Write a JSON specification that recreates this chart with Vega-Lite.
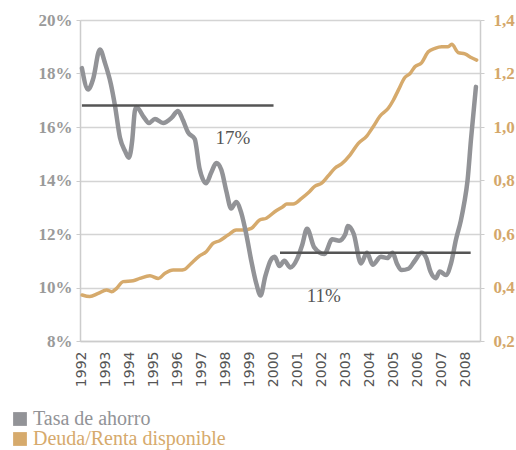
{
  "$schema": "https://vega.github.io/schema/vega-lite/v6.json",
  "width": 400,
  "height": 321,
  "autosize": "none",
  "padding": {"left": 80, "top": 20, "right": 36, "bottom": 109},
  "background": "white",
  "config": {"view": {"stroke": null}, "axisX": {"labelOverlap": false}},
  "datasets": {
    "ahorro": [
      {"anio": 1992.0, "v": 18.2}, {"anio": 1992.26, "v": 17.4}, {"anio": 1992.47, "v": 17.8},
      {"anio": 1992.75, "v": 18.9}, {"anio": 1992.96, "v": 18.4}, {"anio": 1993.21, "v": 17.6},
      {"anio": 1993.38, "v": 16.8}, {"anio": 1993.59, "v": 15.6}, {"anio": 1993.8, "v": 15.1},
      {"anio": 1993.96, "v": 14.85}, {"anio": 1994.1, "v": 15.5}, {"anio": 1994.21, "v": 16.6},
      {"anio": 1994.28, "v": 16.75}, {"anio": 1994.56, "v": 16.4}, {"anio": 1994.8, "v": 16.15},
      {"anio": 1995.05, "v": 16.3}, {"anio": 1995.39, "v": 16.15}, {"anio": 1995.75, "v": 16.35},
      {"anio": 1996.01, "v": 16.6}, {"anio": 1996.22, "v": 16.25}, {"anio": 1996.43, "v": 15.8},
      {"anio": 1996.71, "v": 15.55}, {"anio": 1996.91, "v": 14.45}, {"anio": 1997.19, "v": 13.9},
      {"anio": 1997.4, "v": 14.3}, {"anio": 1997.61, "v": 14.65}, {"anio": 1997.82, "v": 14.4},
      {"anio": 1998.03, "v": 13.6}, {"anio": 1998.23, "v": 12.95}, {"anio": 1998.44, "v": 13.2},
      {"anio": 1998.65, "v": 12.8}, {"anio": 1998.86, "v": 12.0}, {"anio": 1999.07, "v": 11.0},
      {"anio": 1999.28, "v": 10.15}, {"anio": 1999.46, "v": 9.7}, {"anio": 1999.65, "v": 10.4},
      {"anio": 1999.9, "v": 11.05}, {"anio": 2000.05, "v": 11.15}, {"anio": 2000.25, "v": 10.8},
      {"anio": 2000.45, "v": 11.0}, {"anio": 2000.7, "v": 10.75}, {"anio": 2001.0, "v": 11.1},
      {"anio": 2001.2, "v": 11.6}, {"anio": 2001.4, "v": 12.2}, {"anio": 2001.7, "v": 11.5},
      {"anio": 2002.12, "v": 11.25}, {"anio": 2002.45, "v": 11.8}, {"anio": 2002.74, "v": 11.75},
      {"anio": 2003.0, "v": 12.0}, {"anio": 2003.1, "v": 12.3}, {"anio": 2003.35, "v": 12.0},
      {"anio": 2003.65, "v": 10.9}, {"anio": 2003.9, "v": 11.3}, {"anio": 2004.14, "v": 10.85},
      {"anio": 2004.48, "v": 11.15}, {"anio": 2004.75, "v": 11.1}, {"anio": 2004.97, "v": 11.3},
      {"anio": 2005.15, "v": 10.9}, {"anio": 2005.35, "v": 10.65}, {"anio": 2005.63, "v": 10.7},
      {"anio": 2005.9, "v": 11.0}, {"anio": 2006.18, "v": 11.3}, {"anio": 2006.38, "v": 11.1},
      {"anio": 2006.55, "v": 10.6}, {"anio": 2006.77, "v": 10.35}, {"anio": 2006.94, "v": 10.6},
      {"anio": 2007.2, "v": 10.47}, {"anio": 2007.41, "v": 10.9}, {"anio": 2007.62, "v": 11.8},
      {"anio": 2007.82, "v": 12.5}, {"anio": 2007.96, "v": 13.15}, {"anio": 2008.1, "v": 14.0},
      {"anio": 2008.24, "v": 15.5}, {"anio": 2008.45, "v": 17.5}
    ],
    "deuda": [
      {"anio": 1992.01, "r": 0.372}, {"anio": 1992.33, "r": 0.366}, {"anio": 1992.68, "r": 0.378},
      {"anio": 1993.03, "r": 0.391}, {"anio": 1993.24, "r": 0.384}, {"anio": 1993.45, "r": 0.397},
      {"anio": 1993.72, "r": 0.422}, {"anio": 1994.14, "r": 0.425}, {"anio": 1994.42, "r": 0.434},
      {"anio": 1994.84, "r": 0.444}, {"anio": 1995.19, "r": 0.434}, {"anio": 1995.47, "r": 0.453},
      {"anio": 1995.81, "r": 0.465}, {"anio": 1996.09, "r": 0.465}, {"anio": 1996.29, "r": 0.468},
      {"anio": 1996.56, "r": 0.49}, {"anio": 1996.91, "r": 0.518}, {"anio": 1997.19, "r": 0.534},
      {"anio": 1997.47, "r": 0.565}, {"anio": 1997.75, "r": 0.575}, {"anio": 1998.1, "r": 0.596},
      {"anio": 1998.44, "r": 0.615}, {"anio": 1998.79, "r": 0.615}, {"anio": 1999.07, "r": 0.621},
      {"anio": 1999.42, "r": 0.652}, {"anio": 1999.7, "r": 0.659}, {"anio": 2000.05, "r": 0.683},
      {"anio": 2000.39, "r": 0.702}, {"anio": 2000.55, "r": 0.712}, {"anio": 2000.82, "r": 0.712},
      {"anio": 2001.17, "r": 0.733}, {"anio": 2001.45, "r": 0.754}, {"anio": 2001.73, "r": 0.779},
      {"anio": 2002.01, "r": 0.79}, {"anio": 2002.28, "r": 0.817}, {"anio": 2002.56, "r": 0.846},
      {"anio": 2002.84, "r": 0.862}, {"anio": 2003.19, "r": 0.895}, {"anio": 2003.54, "r": 0.939},
      {"anio": 2003.89, "r": 0.966}, {"anio": 2004.16, "r": 1.001}, {"anio": 2004.44, "r": 1.04},
      {"anio": 2004.79, "r": 1.07}, {"anio": 2005.0, "r": 1.1}, {"anio": 2005.21, "r": 1.138},
      {"anio": 2005.49, "r": 1.186}, {"anio": 2005.7, "r": 1.2}, {"anio": 2005.9, "r": 1.225},
      {"anio": 2006.18, "r": 1.24}, {"anio": 2006.46, "r": 1.281}, {"anio": 2006.74, "r": 1.294},
      {"anio": 2007.02, "r": 1.3}, {"anio": 2007.29, "r": 1.3}, {"anio": 2007.44, "r": 1.309},
      {"anio": 2007.71, "r": 1.278}, {"anio": 2007.99, "r": 1.273}, {"anio": 2008.27, "r": 1.259},
      {"anio": 2008.48, "r": 1.25}
    ],
    "medias": [
      {"desde": 1992.0, "hasta": 2000.0, "v": 16.8},
      {"desde": 2000.27, "hasta": 2008.23, "v": 11.3}
    ],
    "etiquetas": [
      {"anio": 1998.3, "v": 15.6, "txt": "17%"},
      {"anio": 2002.1, "v": 9.68, "txt": "11%"}
    ]
  },
  "encoding": {
    "x": {"field": "anio", "type": "quantitative", "scale": {"domain": [1991.92, 2008.62], "nice": false, "zero": false},
      "axis": {"values": [1992,1993,1994,1995,1996,1997,1998,1999,2000,2001,2002,2003,2004,2005,2006,2007,2008], "tickCount": 17, "tickMinStep": 1, "format": "d", "labelAngle": 270, "grid": false, "ticks": false, "labelPadding": 10, "labelFont": "DejaVu Sans", "labelFontSize": 14, "labelColor": "#555555", "domainColor": "#cccccc", "domainWidth": 1.5, "title": null, "labelFlush": false, "labelOverlap": false}}
  },
  "layer": [
    {
      "data": {"name": "deuda"},
      "transform": [{"calculate": "'Deuda/Renta disponible'", "as": "serie"}],
      "mark": {"type": "line", "strokeWidth": 3.5, "interpolate": "monotone", "strokeJoin": "round", "strokeCap": "round"},
      "encoding": {
        "y": {"field": "r", "type": "quantitative", "scale": {"domain": [0.2, 1.4], "nice": false, "zero": false},
          "axis": {"orient": "right", "values": [0.2,0.4,0.6,0.8,1.0,1.2,1.4], "labelExpr": "replace(format(datum.value, '.1f'), '.', ',')", "grid": false, "tickSize": 4, "tickColor": "#cccccc", "domainColor": "#cccccc", "domainWidth": 1.5, "labelPadding": 9, "labelFont": "Liberation Serif", "labelFontWeight": "bold", "labelFontSize": 17, "labelColor": "#d4a76a", "title": null, "labelFlush": false}},
        "color": {"field": "serie", "type": "nominal",
          "scale": {"domain": ["Tasa de ahorro", "Deuda/Renta disponible"], "range": ["#929397", "#d6aa6c"]},
          "legend": {"orient": "none", "legendX": -70, "legendY": 389, "title": null, "symbolType": "square", "symbolSize": 190, "symbolStrokeWidth": 0, "labelFont": "Liberation Serif", "labelFontSize": 20, "labelOffset": 3, "rowPadding": 0, "labelLimit": 400,
            "encode": {
              "symbols": {"update": {"fill": {"scale": "color", "field": "value"}, "stroke": {"value": "transparent"}, "opacity": {"value": 1}}},
              "labels": {"update": {"fill": {"scale": "color", "field": "value"}}}
            }}}
      }
    },
    {
      "layer": [
        {
          "data": {"name": "ahorro"},
          "transform": [{"calculate": "'Tasa de ahorro'", "as": "serie"}],
          "mark": {"type": "line", "strokeWidth": 4.5, "interpolate": "monotone", "strokeJoin": "round", "strokeCap": "round"},
          "encoding": {
            "y": {"field": "v", "type": "quantitative", "scale": {"domain": [8, 20], "nice": false, "zero": false},
              "axis": {"orient": "left", "values": [8,10,12,14,16,18,20], "labelExpr": "datum.value + '%'", "grid": true, "gridColor": "#d4d4d4", "gridWidth": 1.5, "tickSize": 4, "tickColor": "#cccccc", "domainColor": "#cccccc", "domainWidth": 1.5, "labelPadding": 4, "labelFont": "Liberation Serif", "labelFontWeight": "bold", "labelFontSize": 17, "labelColor": "#9a9a9a", "title": null, "labelFlush": false}},
            "color": {"field": "serie", "type": "nominal"}
          }
        },
        {
          "data": {"name": "medias"},
          "mark": {"type": "rule", "color": "#555555", "strokeWidth": 2.5},
          "encoding": {
            "x": {"field": "desde", "type": "quantitative"},
            "x2": {"field": "hasta"},
            "y": {"field": "v", "type": "quantitative"}
          }
        },
        {
          "data": {"name": "etiquetas"},
          "mark": {"type": "text", "font": "Liberation Serif", "fontSize": 19, "color": "#555555", "align": "center", "baseline": "middle"},
          "encoding": {
            "y": {"field": "v", "type": "quantitative"},
            "text": {"field": "txt"}
          }
        }
      ]
    }
  ],
  "resolve": {"scale": {"y": "independent"}}
}
